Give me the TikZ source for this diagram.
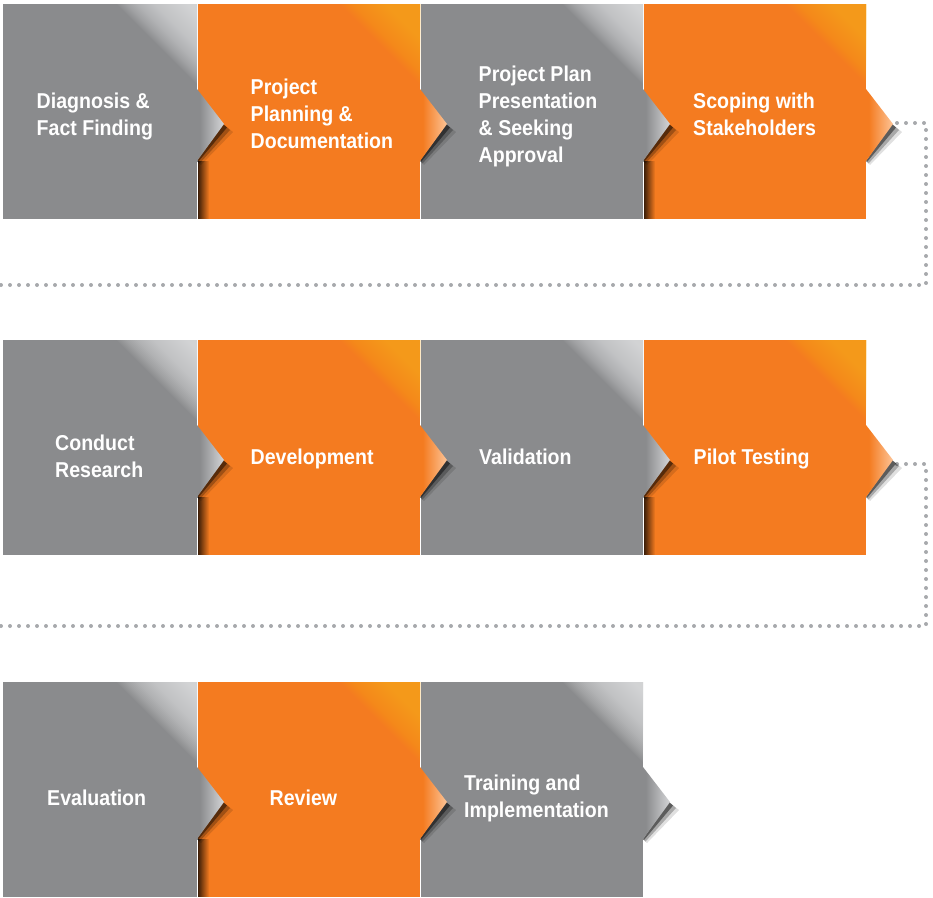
\documentclass[tikz,border=0pt]{standalone}
\usepackage{fontspec}
\newfontfamily\lblfont{Liberation Sans}[FakeStretch=0.91]
\usetikzlibrary{calc,fadings}
\definecolor{gbase}{HTML}{8A8B8D}
\definecolor{glight}{HTML}{E2E3E4}
\definecolor{gchev}{HTML}{D4D5D7}
\definecolor{obase}{HTML}{F47B20}
\definecolor{olight}{HTML}{F9A91A}
\definecolor{ochev}{HTML}{FDC497}
\definecolor{dotc}{HTML}{A7A9AC}
\pgfdeclarehorizontalshading{gchevsh}{100bp}{color(0bp)=(gbase); color(30bp)=(gbase); color(75bp)=(gchev); color(100bp)=(gchev)}
\pgfdeclarehorizontalshading{ochevsh}{100bp}{color(0bp)=(obase); color(30bp)=(obase); color(75bp)=(ochev); color(100bp)=(ochev)}
\newcommand{\chevdraw}[2]{%
  \fill[black,opacity=0.12] ($(#1.north east)+(26,120)$) -- ($(#1.north east)+(36,128)$) -- ($(#1.north east)+(4,161)$) -- ($(#1.north east)+(0,157)$) -- cycle;
  \fill[black,opacity=0.25] ($(#1.north east)+(26,120)$) -- ($(#1.north east)+(33,126)$) -- ($(#1.north east)+(2.5,159.5)$) -- ($(#1.north east)+(0,157)$) -- cycle;
  \fill[black,opacity=0.45] ($(#1.north east)+(26,120)$) -- ($(#1.north east)+(30,123.5)$) -- ($(#1.north east)+(1,158)$) -- ($(#1.north east)+(0,157)$) -- cycle;
  \shade[shading=#2] ($(#1.north east)+(0,85)$) -- ($(#1.north east)+(27,120)$) -- ($(#1.north east)+(0,157)$) -- cycle;
}
\newcommand{\edgeshadow}[1]{%
  \fill[black,opacity=0.75,path fading=east] ($(#1.north west)+(0,157)$) rectangle ($(#1.south west)+(11,0)$);
}
\tikzset{
  boxbase/.style={rectangle, draw=none, inner sep=0pt, outer sep=0pt, anchor=north west, minimum height=215pt},
  gbox/.style={boxbase, fill=gbase, path picture={\foreach \k in {1,...,40} \fill[glight, opacity=0.06] (path picture bounding box.north east) -- ++(-2*\k,0) -- ++(2*\k,2*\k) -- cycle;}},
  obox/.style={boxbase, fill=obase, path picture={\foreach \k in {1,...,40} \fill[olight, opacity=0.06] (path picture bounding box.north east) -- ++(-2*\k,0) -- ++(2*\k,2*\k) -- cycle;}},
  lbl/.style={text=white, font={\lblfont\bfseries\fontsize{21.5pt}{27pt}\selectfont}, align=left, anchor=west, inner sep=0pt, execute at begin node=\strut, execute at end node=\strut},
  dotline/.style={draw=dotc, line width=4pt, line cap=round, dash pattern=on 0pt off 9pt}
}
\begin{document}
\begin{tikzpicture}[x=1pt, y=-1pt]
\useasboundingbox (0,0) rectangle (933,897);
% row 1
\node[gbox, minimum width=194pt] (b1) at (3,4) {};
\node[obox, minimum width=222pt] (b2) at (198,4) {};
\node[gbox, minimum width=222pt] (b3) at (421,4) {};
\node[obox, minimum width=222pt] (b4) at (644,4) {};
% row 2
\node[gbox, minimum width=194pt] (b5) at (3,340) {};
\node[obox, minimum width=222pt] (b6) at (198,340) {};
\node[gbox, minimum width=222pt] (b7) at (421,340) {};
\node[obox, minimum width=222pt] (b8) at (644,340) {};
% row 3
\node[gbox, minimum width=194pt] (b9) at (3,682) {};
\node[obox, minimum width=222pt] (b10) at (198,682) {};
\node[gbox, minimum width=222pt] (b11) at (421,682) {};
% shadows on left edges of orange boxes
\edgeshadow{b2}\edgeshadow{b4}\edgeshadow{b6}\edgeshadow{b8}\edgeshadow{b10}
% dotted connectors
\coordinate (d1s) at ($(b4.north east)+(31,119)$);
\coordinate (d1e) at (0,285);
\draw[dotline] (d1s) -| (926,285) -- (d1e);
\coordinate (d2s) at ($(b8.north east)+(31,124)$);
\coordinate (d2e) at (0,626);
\draw[dotline] (d2s) -| (926,626) -- (d2e);
% chevrons
\chevdraw{b1}{gchevsh}\chevdraw{b2}{ochevsh}\chevdraw{b3}{gchevsh}\chevdraw{b4}{ochevsh}
\chevdraw{b5}{gchevsh}\chevdraw{b6}{ochevsh}\chevdraw{b7}{gchevsh}\chevdraw{b8}{ochevsh}
\chevdraw{b9}{gchevsh}\chevdraw{b10}{ochevsh}\chevdraw{b11}{gchevsh}
% labels
\node[lbl] (t1) at (36.5,118) {Diagnosis \&\\Fact Finding};
\node[lbl] (t2) at (250.5,118) {Project\\Planning \&\\Documentation};
\node[lbl] (t3) at (478.5,118) {Project Plan\\Presentation\\\& Seeking\\Approval};
\node[lbl] (t4) at (693,118) {Scoping with\\Stakeholders};
\node[lbl] (t5) at (55,460) {Conduct\\Research};
\node[lbl] (t6) at (250.5,459) {Development};
\node[lbl] (t7) at (479,459) {Validation};
\node[lbl] (t8) at (693.5,459) {Pilot Testing};
\node[lbl] (t9) at (47,800) {Evaluation};
\node[lbl] (t10) at (269.5,800) {Review};
\node[lbl] (t11) at (464,800) {Training and\\Implementation};
\end{tikzpicture}
\end{document}
